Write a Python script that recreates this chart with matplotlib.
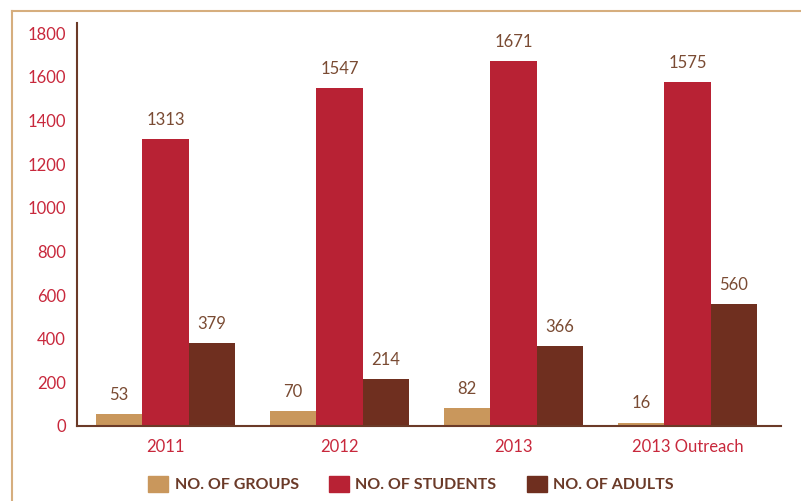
import numpy as np
from matplotlib import pyplot as plt
from matplotlib.lines import Line2D
from matplotlib.patches import Patch

categories = ['2011', '2012', '2013', '2013 Outreach']
groups = [53, 70, 82, 16]
students = [1313, 1547, 1671, 1575]
adults = [379, 214, 366, 560]
series_names = ['NO. OF GROUPS', 'NO. OF STUDENTS', 'NO. OF ADULTS']
yticks = [0, 200, 400, 600, 800, 1000, 1200, 1400, 1600, 1800]

colors = ['#C9975C', '#B82234', '#6F2F1F']
tick_red = '#C8283C'
label_brown = '#7A4B33'
spine_brown = '#6B3A28'
border_tan = '#D6AE7E'

plt.rcParams['font.family'] = ['Lato', 'DejaVu Sans']


def main():
    fig = plt.figure(figsize=(8.01, 5.01), dpi=100)
    ax = fig.add_axes([77 / 801, 1 - 426 / 501, 704 / 801, 403 / 501])

    x = np.arange(len(categories))
    w = 0.267
    for k, vals in enumerate([groups, students, adults]):
        bars = ax.bar(x + (k - 1) * w, vals, width=w, color=colors[k], label=series_names[k])
        for b, v in zip(bars, vals):
            ax.annotate(str(v), (b.get_x() + b.get_width() / 2, v),
                        xytext=(0, 8), textcoords='offset points',
                        ha='center', va='bottom', fontsize=12, color=label_brown)

    ax.set_xlim(-0.509, 3.537)
    ax.set_ylim(0, 1846)
    ax.set_yticks(yticks)
    ax.set_xticks(x)
    ax.set_xticklabels(categories)
    ax.tick_params(axis='both', length=0, labelsize=12, labelcolor=tick_red)
    ax.tick_params(axis='y', pad=8)
    ax.tick_params(axis='x', pad=9)
    for s in ['top', 'right']:
        ax.spines[s].set_visible(False)
    for s in ['left', 'bottom']:
        ax.spines[s].set_color(spine_brown)
        ax.spines[s].set_linewidth(1.5)

    # frame lines on top and left of the picture
    fig.add_artist(Line2D([12 / 801, 1], [1 - 11 / 501, 1 - 11 / 501], color=border_tan, lw=1.5))
    fig.add_artist(Line2D([12 / 801, 12 / 801], [0, 1 - 11 / 501], color=border_tan, lw=1.5))

    handles = [Patch(color=c) for c in colors]
    leg = fig.legend(handles, series_names, loc='center', bbox_to_anchor=(411 / 801, 1 - 484 / 501),
                     ncol=3, frameon=False, handlelength=1.25, handleheight=1.25,
                     columnspacing=1.9, handletextpad=0.4,
                     prop={'weight': 'bold', 'size': 11.5})
    for t in leg.get_texts():
        t.set_color(spine_brown)

    fig.savefig('out.png', dpi=100)


if __name__ == '__main__':
    main()
